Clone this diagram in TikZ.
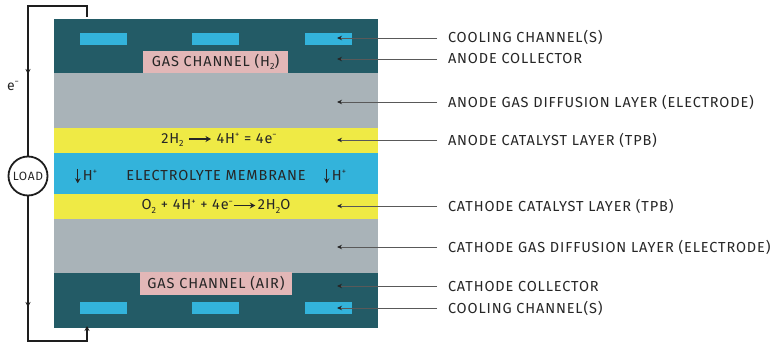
\documentclass[tikz,border=0pt]{standalone}
\usepackage{fontspec}
\setmainfont{Fira Sans}[LetterSpace=6]
\usetikzlibrary{arrows.meta}
\definecolor{dteal}{HTML}{235B66}
\definecolor{lblue}{HTML}{33B3DB}
\definecolor{lgray}{HTML}{A9B3B8}
\definecolor{yel}{HTML}{EFEA45}
\definecolor{pinkc}{HTML}{E2B7B7}
\definecolor{txt}{HTML}{262626}
\definecolor{wirec}{HTML}{1E1E1E}
\newcommand\subs[1]{\raisebox{-0.45ex}{\fontsize{9}{9}\selectfont #1}}
\newcommand\sups[1]{\raisebox{0.75ex}{\fontsize{8.5}{9}\selectfont #1}}
\newcommand\rarr{\tikz[baseline=0pt]\draw[line width=1.2pt,-{Stealth[length=5.5pt,width=6pt]}] (0,0.3em)--(1.5em,0.3em);}
\newcommand\darr{\tikz[baseline=0pt]\draw[line width=1.2pt,-{Stealth[length=5pt,width=5.5pt]}] (0,0.8em)--(0,-0.2em);}
\begin{document}
\begin{tikzpicture}[x=1pt,y=-1pt,
  layertxt/.style={font=\fontsize{14.5}{16}\selectfont, text=txt, inner sep=0pt},
  pinkbox/.style={fill=pinkc, inner sep=0pt, font=\fontsize{14.5}{16}\selectfont, text=txt},
  lab/.style={anchor=west, font=\fontsize{14.5}{16}\selectfont, text=txt, inner sep=0pt, outer xsep=11pt, text height=10pt, text depth=0pt},
  leader/.style={draw=black!65, line width=0.9pt, -{Stealth[length=5pt,width=4.5pt,color=black!85]}},
  wire/.style={draw=wirec, line width=1.8pt},
  wtip/.style={wirec, line width=0.9pt, -{Stealth[length=5pt,width=5pt]}}
]
\useasboundingbox (0,0) rectangle (773,342);
% layers
\fill[dteal] (54,19) rectangle (378,73);
\fill[lgray] (54,73) rectangle (378,128);
\fill[yel] (54,128) rectangle (378,153);
\fill[lblue] (54,153) rectangle (378,194);
\fill[yel] (54,194) rectangle (378,219);
\fill[lgray] (54,219) rectangle (378,273);
\fill[dteal] (54,273) rectangle (378,328);
% cooling channels
\foreach \xa in {80,192,305}{
  \fill[lblue] (\xa,33) rectangle (\xa+47,45);
  \fill[lblue] (\xa,302) rectangle (\xa+47,314);
}
% gas channels
\node[pinkbox, minimum width=145pt, minimum height=22pt] (gh) at (215.5,62) {GAS CHANNEL (H\subs{2})};
\node[pinkbox, minimum width=152pt, minimum height=23pt] (ga) at (216,283.5) {GAS CHANNEL (AIR)};
% layer texts
\node[layertxt] (eq1) at (219,140) {2H\subs{2}\hspace{5pt}\rarr\hspace{5pt}4H\sups{+} = 4e\sups{−}};
\node[layertxt] (mem) at (216,176) {ELECTROLYTE MEMBRANE};
\node[layertxt] (hp1) at (86,176) {\darr\,H\sups{+}};
\node[layertxt] (hp2) at (335,176) {\darr\,H\sups{+}};
\node[layertxt] (eq2) at (216,206.5) {O\subs{2} + 4H\sups{+} + 4e\sups{−}\rarr\hspace{2pt}2H\subs{2}O};
% pointer targets
\coordinate (c1) at (337,38);
\coordinate (c2) at (337,59);
\coordinate (c3) at (337,102);
\coordinate (c4) at (337,140);
\coordinate (c5) at (337,206);
\coordinate (c6) at (337,247);
\coordinate (c7) at (337,286);
\coordinate (c8) at (337,308);
% labels
\node[lab] (l1) at (437,38) {COOLING CHANNEL(S)};
\node[lab] (l2) at (437,59) {ANODE COLLECTOR};
\node[lab] (l3) at (437,102) {ANODE GAS DIFFUSION LAYER (ELECTRODE)};
\node[lab] (l4) at (437,140) {ANODE CATALYST LAYER (TPB)};
\node[lab] (l5) at (437,206) {CATHODE CATALYST LAYER (TPB)};
\node[lab] (l6) at (437,247) {CATHODE GAS DIFFUSION LAYER (ELECTRODE)};
\node[lab] (l7) at (437,286) {CATHODE COLLECTOR};
\node[lab] (l8) at (437,308) {COOLING CHANNEL(S)};
\foreach \i in {1,...,8}{\draw[leader] (l\i.west) -- (c\i);}
% circuit
\node[circle, draw=wirec, line width=1.8pt, minimum size=39pt, inner sep=0pt, font=\fontsize{12}{13}\selectfont, text=txt] (load) at (28,176) {LOAD};
\coordinate (tA) at (87,17);
\coordinate (tB) at (87,6);
\coordinate (tC) at (28,6);
\coordinate (bA) at (28,341);
\coordinate (bB) at (87,341);
\coordinate (bC) at (87,327);
\draw[wire] (tA) -- (tB) -- (tC) -- (load.north);
\draw[wire] (load.south) -- (bA) -- (bB) -- (bC);
\coordinate (m1) at (28,66);
\coordinate (m2) at (28,74);
\coordinate (m3) at (28,299);
\coordinate (m4) at (28,307);
\coordinate (m5) at (87,333);
\coordinate (m6) at (87,326);
\draw[wtip] (m1) -- (m2);
\draw[wtip] (m3) -- (m4);
\draw[wtip] (m5) -- (m6);
\node[font=\fontsize{14}{15}\selectfont, text=txt, inner sep=0pt] (el) at (13,86) {e\sups{−}};
\end{tikzpicture}
\end{document}
